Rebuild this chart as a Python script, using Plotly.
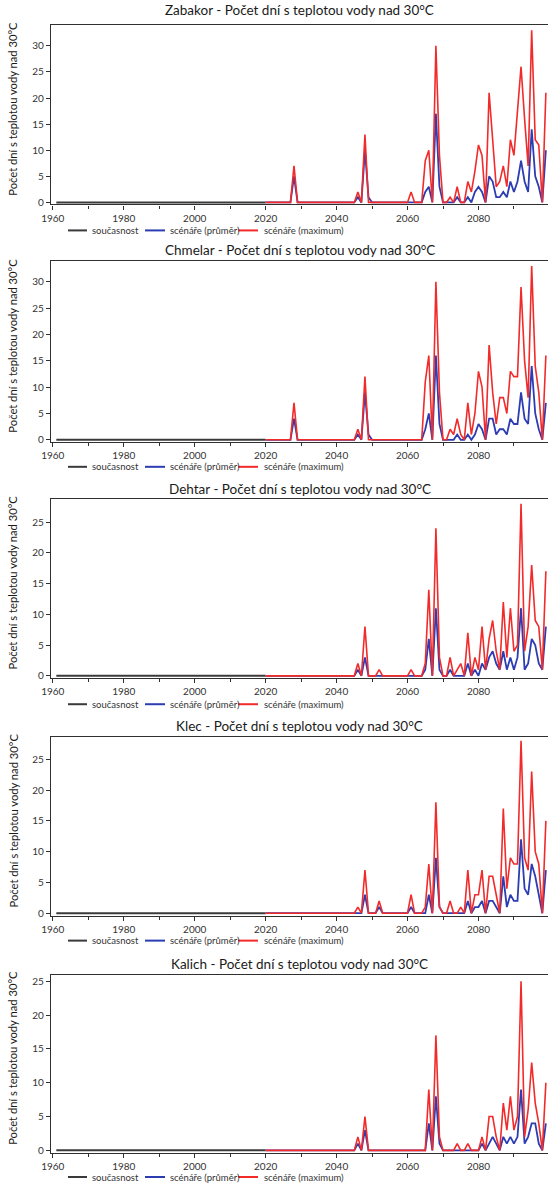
import plotly.graph_objects as go

# ---- data -------------------------------------------------------------
stations = ["Zabakor", "Chmelar", "Dehtar", "Klec", "Kalich"]
series_names = ["současnost", "scénáře (průměr)", "scénáře (maximum)"]

years_current = list(range(1961, 2021))
current_days = [
    0, 0, 0, 0, 0, 0, 0, 0, 0, 0,
    0, 0, 0, 0, 0, 0, 0, 0, 0, 0,
    0, 0, 0, 0, 0, 0, 0, 0, 0, 0,
    0, 0, 0, 0, 0, 0, 0, 0, 0, 0,
    0, 0, 0, 0, 0, 0, 0, 0, 0, 0,
    0, 0, 0, 0, 0, 0, 0, 0, 0, 0,
]

years_scen = list(range(2020, 2100))

zabakor_max = [
    0, 0, 0, 0, 0, 0, 0, 0, 7, 0,
    0, 0, 0, 0, 0, 0, 0, 0, 0, 0,
    0, 0, 0, 0, 0, 0, 2, 0, 13, 0,
    0, 0, 0, 0, 0, 0, 0, 0, 0, 0,
    0, 2, 0, 0, 0, 8, 10, 0, 30, 9,
    0, 0, 1, 0, 3, 0, 0, 4, 2, 6,
    11, 9, 0, 21, 12, 3, 4, 7, 3, 12,
    9, 17, 26, 16, 7, 33, 12, 11, 0, 21,
]
zabakor_mean = [
    0, 0, 0, 0, 0, 0, 0, 0, 5, 0,
    0, 0, 0, 0, 0, 0, 0, 0, 0, 0,
    0, 0, 0, 0, 0, 0, 1, 0, 10, 1,
    0, 0, 0, 0, 0, 0, 0, 0, 0, 0,
    0, 0, 0, 0, 0, 2, 3, 0, 17, 3,
    0, 0, 0, 0, 1, 0, 0, 1, 0, 2,
    3, 2, 0, 5, 4, 1, 1, 2, 1, 4,
    2, 4, 8, 4, 2, 14, 5, 3, 0, 10,
]

chmelar_max = [
    0, 0, 0, 0, 0, 0, 0, 0, 7, 0,
    0, 0, 0, 0, 0, 0, 0, 0, 0, 0,
    0, 0, 0, 0, 0, 0, 2, 0, 12, 0,
    0, 0, 0, 0, 0, 0, 0, 0, 0, 0,
    0, 0, 0, 0, 0, 11, 16, 0, 30, 9,
    0, 0, 2, 1, 4, 1, 0, 7, 1, 5,
    13, 10, 0, 18, 9, 3, 8, 8, 5, 13,
    12, 12, 29, 15, 8, 33, 14, 9, 0, 16,
]
chmelar_mean = [
    0, 0, 0, 0, 0, 0, 0, 0, 4, 0,
    0, 0, 0, 0, 0, 0, 0, 0, 0, 0,
    0, 0, 0, 0, 0, 0, 1, 0, 9, 1,
    0, 0, 0, 0, 0, 0, 0, 0, 0, 0,
    0, 0, 0, 0, 0, 2, 5, 0, 16, 3,
    0, 0, 0, 0, 1, 0, 0, 1, 0, 1,
    3, 2, 0, 4, 4, 1, 2, 2, 1, 4,
    3, 3, 9, 4, 3, 14, 5, 2, 0, 7,
]

dehtar_max = [
    0, 0, 0, 0, 0, 0, 0, 0, 0, 0,
    0, 0, 0, 0, 0, 0, 0, 0, 0, 0,
    0, 0, 0, 0, 0, 0, 2, 0, 8, 0,
    0, 0, 1, 0, 0, 0, 0, 0, 0, 0,
    0, 1, 0, 0, 0, 2, 14, 0, 24, 3,
    0, 0, 3, 0, 1, 2, 0, 7, 0, 3,
    1, 8, 1, 6, 9, 4, 1, 12, 3, 11,
    4, 5, 28, 4, 8, 18, 9, 8, 1, 17,
]
dehtar_mean = [
    0, 0, 0, 0, 0, 0, 0, 0, 0, 0,
    0, 0, 0, 0, 0, 0, 0, 0, 0, 0,
    0, 0, 0, 0, 0, 0, 1, 0, 3, 0,
    0, 0, 0, 0, 0, 0, 0, 0, 0, 0,
    0, 0, 0, 0, 0, 1, 6, 0, 11, 1,
    0, 0, 1, 0, 0, 0, 0, 2, 0, 1,
    0, 2, 1, 3, 4, 2, 1, 4, 1, 3,
    1, 3, 11, 1, 2, 6, 5, 2, 1, 8,
]

klec_max = [
    0, 0, 0, 0, 0, 0, 0, 0, 0, 0,
    0, 0, 0, 0, 0, 0, 0, 0, 0, 0,
    0, 0, 0, 0, 0, 0, 1, 0, 7, 0,
    0, 0, 2, 0, 0, 0, 0, 0, 0, 0,
    0, 3, 0, 0, 0, 1, 8, 0, 18, 1,
    0, 0, 2, 0, 0, 1, 0, 7, 0, 3,
    3, 7, 0, 6, 6, 3, 0, 17, 4, 9,
    8, 8, 28, 9, 7, 23, 10, 8, 0, 15,
]
klec_mean = [
    0, 0, 0, 0, 0, 0, 0, 0, 0, 0,
    0, 0, 0, 0, 0, 0, 0, 0, 0, 0,
    0, 0, 0, 0, 0, 0, 0, 0, 3, 0,
    0, 0, 1, 0, 0, 0, 0, 0, 0, 0,
    0, 1, 0, 0, 0, 0, 3, 0, 9, 1,
    0, 0, 0, 0, 0, 0, 0, 2, 0, 1,
    1, 2, 0, 2, 2, 1, 0, 6, 1, 3,
    2, 2, 12, 4, 3, 8, 6, 3, 0, 7,
]

kalich_max = [
    0, 0, 0, 0, 0, 0, 0, 0, 0, 0,
    0, 0, 0, 0, 0, 0, 0, 0, 0, 0,
    0, 0, 0, 0, 0, 0, 2, 0, 5, 0,
    0, 0, 0, 0, 0, 0, 0, 0, 0, 0,
    0, 0, 0, 0, 0, 0, 9, 0, 17, 2,
    0, 0, 0, 0, 1, 0, 0, 1, 0, 0,
    0, 2, 0, 5, 5, 2, 0, 7, 3, 8,
    3, 5, 25, 2, 6, 13, 7, 4, 0, 10,
]
kalich_mean = [
    0, 0, 0, 0, 0, 0, 0, 0, 0, 0,
    0, 0, 0, 0, 0, 0, 0, 0, 0, 0,
    0, 0, 0, 0, 0, 0, 1, 0, 3, 0,
    0, 0, 0, 0, 0, 0, 0, 0, 0, 0,
    0, 0, 0, 0, 0, 0, 4, 0, 8, 1,
    0, 0, 0, 0, 0, 0, 0, 0, 0, 0,
    0, 1, 0, 1, 2, 1, 0, 2, 1, 2,
    1, 2, 9, 1, 2, 4, 4, 1, 0, 4,
]

mean_series = [zabakor_mean, chmelar_mean, dehtar_mean, klec_mean, kalich_mean]
max_series = [zabakor_max, chmelar_max, dehtar_max, klec_max, kalich_max]
y_tops = [34.0, 33.9, 28.8, 28.6, 26.0]

# ---- layout geometry (pixels) -----------------------------------------
W, H = 548, 1188
ML = 51
panel_px = [(25, 205), (262, 443), (500, 680), (739, 918), (977, 1156)]
title_px = [10, 251, 490, 728, 966]
legend_px = [231, 468, 706, 943, 1180]
# legend keys: (line start, line end, text start) in pixels
legend_slots = [(68, 87, 90), (145, 165, 168), (238, 258, 262)]

FONT = "Lato"
COL_CUR = "#3a3a3a"
COL_MEAN = "#2c3db4"
COL_MAX = "#f22a2a"
series_colors = [COL_CUR, COL_MEAN, COL_MAX]
AXIS_COL = "#303030"
TXT = "#333333"


def py(px):
    return 1 - px / H


def px_x(px):
    return (px - ML) / (W - ML)


fig = go.Figure()
annotations = []
shapes = []
layout = dict(
    width=W, height=H,
    margin=dict(l=ML, r=0, t=0, b=0),
    paper_bgcolor="white", plot_bgcolor="white",
    font=dict(family=FONT, size=10, color=TXT),
    showlegend=False,
)

for i, name in enumerate(stations):
    k = "" if i == 0 else str(i + 1)
    xa, ya = "x" + k, "y" + k

    fig.add_trace(go.Scatter(
        x=years_current, y=current_days, mode="lines", name=series_names[0],
        line=dict(color=COL_CUR, width=2), xaxis=xa, yaxis=ya))
    fig.add_trace(go.Scatter(
        x=years_scen, y=mean_series[i], mode="lines", name=series_names[1],
        line=dict(color=COL_MEAN, width=1.8), xaxis=xa, yaxis=ya))
    fig.add_trace(go.Scatter(
        x=years_scen, y=max_series[i], mode="lines", name=series_names[2],
        line=dict(color=COL_MAX, width=1.6), xaxis=xa, yaxis=ya))

    top, bot = panel_px[i]
    layout["xaxis" + k] = dict(
        domain=[0, 1], anchor=ya, range=[1959.5, 2099.6],
        tick0=1960, dtick=20, ticks="outside", ticklen=4, tickcolor=AXIS_COL,
        minor=dict(dtick=10, tick0=1960, ticks="outside", ticklen=3, tickcolor=AXIS_COL),
        showline=True, linecolor=AXIS_COL, linewidth=1.2, mirror=True,
        showgrid=False, zeroline=False,
        tickfont=dict(size=10, color=TXT, family=FONT),
    )
    layout["yaxis" + k] = dict(
        domain=[py(bot), py(top)], anchor=xa, range=[-0.4, y_tops[i]],
        dtick=5, tick0=0, ticks="outside", ticklen=4, tickcolor=AXIS_COL,
        showline=True, linecolor=AXIS_COL, linewidth=1.2, mirror=False,
        showgrid=False, zeroline=False,
        tickfont=dict(size=10, color=TXT, family=FONT),
    )

    # panel title
    annotations.append(dict(
        text=f"{name} - Počet dní s teplotou vody nad 30°C",
        xref="paper", yref="paper", x=0.5, y=py(title_px[i]),
        xanchor="center", yanchor="middle", showarrow=False,
        font=dict(size=13.5, color="#1a1a1a", family=FONT),
    ))
    # y-axis title
    annotations.append(dict(
        text="Počet dní s teplotou vody nad 30°C",
        xref="paper", yref="paper", x=px_x(13), y=py((top + bot) / 2 - 6),
        xanchor="center", yanchor="middle", textangle=-90, showarrow=False,
        font=dict(size=11.2, color="#1a1a1a", family=FONT),
    ))
    # legend row below the panel
    ly = py(legend_px[i])
    for (x0, x1, xt), label, col in zip(legend_slots, series_names, series_colors):
        shapes.append(dict(
            type="line", xref="paper", yref="paper",
            x0=px_x(x0), x1=px_x(x1), y0=ly, y1=ly,
            line=dict(color=col, width=2),
        ))
        annotations.append(dict(
            text=label, xref="paper", yref="paper", x=px_x(xt), y=ly,
            xanchor="left", yanchor="middle", showarrow=False,
            font=dict(size=9.5, color=TXT, family=FONT),
        ))

layout["annotations"] = annotations
layout["shapes"] = shapes
fig.update_layout(**layout)
fig.write_html("out.html")
